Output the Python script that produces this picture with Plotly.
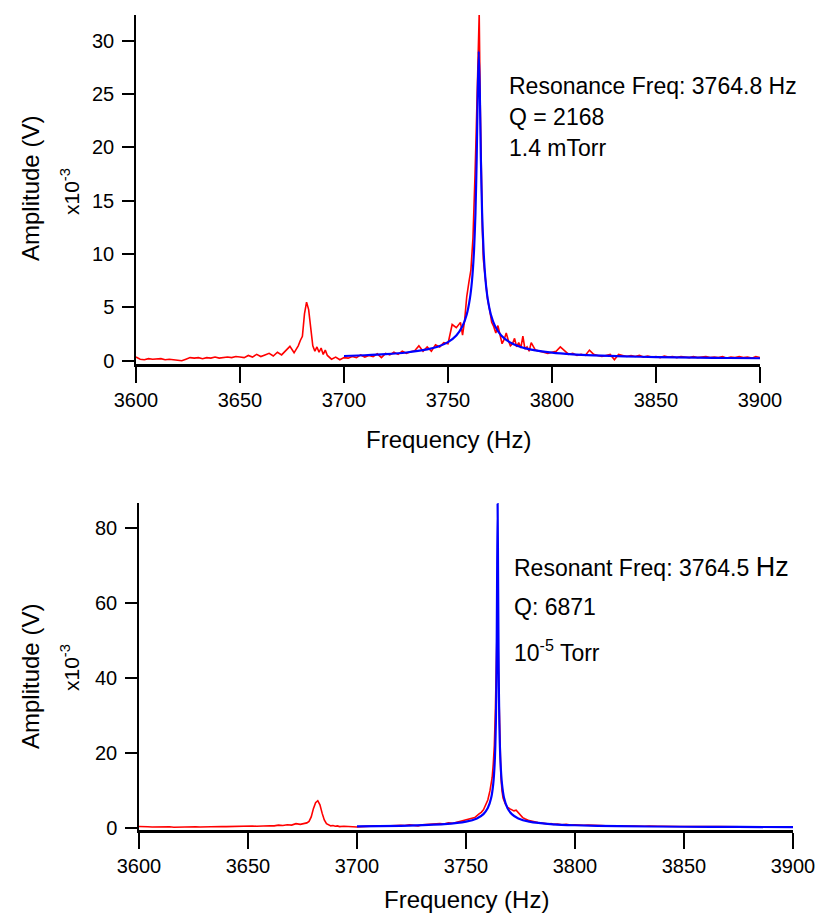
import numpy as np
import plotly.graph_objects as go

W, H = 816, 922
FONT = "Liberation Sans, Arial, sans-serif"


def grid(segments):
    """Build the frequency sample grid from (start, stop, step) segments."""
    return np.concatenate([np.arange(a, b + s / 2, s) for a, b, s in segments])


# ---------------- Upper panel: 1.4 mTorr ----------------
top_red_segments = [(3600, 3678, 2), (3679, 3692, 1), (3694, 3756, 2),
                    (3757, 3762, 1), (3762.5, 3767, 0.5), (3768, 3790, 1),
                    (3792, 3900, 2)]
top_red_amp = [
    # 3600-3678
    0.35, 0.15, 0.10, 0.20, 0.15, 0.15, 0.20, 0.10, 0.15, 0.10,
    0.05, 0.00, 0.15, 0.30, 0.25, 0.30, 0.20, 0.30, 0.25, 0.35,
    0.25, 0.30, 0.35, 0.30, 0.40, 0.35, 0.30, 0.50, 0.35, 0.60,
    0.40, 0.55, 0.70, 0.45, 0.80, 0.55, 1.00, 1.35, 0.75, 1.40,
    # 3679-3692
    1.9, 2.3, 4.4, 5.5, 4.8, 2.8, 1.4, 0.9, 1.3, 0.8, 1.2, 0.6, 1.0, 0.5,
    # 3694-3756
    0.15, 0.35, 0.10, 0.30, 0.25, 0.40, 0.30, 0.55, 0.35, 0.50,
    0.40, 0.65, 0.30, 0.70, 0.55, 0.80, 0.60, 0.90, 0.70, 0.85,
    0.95, 1.40, 0.90, 1.30, 0.90, 1.50, 1.30, 1.70, 1.60, 3.40,
    3.10, 3.60,
    # 3757-3762
    2.4, 3.8, 6.0, 7.3, 8.5, 11.5,
    # 3762.5-3767
    14.0, 17.5, 21.0, 26.0, 30.5, 32.5, 24.0, 17.0, 12.5, 9.5,
    # 3768-3790
    7.5, 5.8, 4.8, 3.6, 3.2, 2.6, 3.3, 2.3, 1.6, 2.0, 2.6, 1.9,
    1.4, 1.6, 2.1, 1.3, 1.7, 1.2, 2.3, 1.1, 1.3, 0.9, 1.7,
    # 3792-3900
    1.0, 0.9, 0.8, 0.7, 0.8, 0.9, 1.3, 0.9, 0.6, 0.7,
    0.5, 0.6, 0.5, 1.0, 0.6, 0.5, 0.4, 0.5, 0.6, 0.1,
    0.6, 0.5, 0.4, 0.5, 0.4, 0.5, 0.35, 0.45, 0.35, 0.4,
    0.3, 0.45, 0.35, 0.4, 0.3, 0.4, 0.35, 0.3, 0.4, 0.3,
    0.35, 0.4, 0.3, 0.35, 0.3, 0.4, 0.25, 0.35, 0.3, 0.4,
    0.3, 0.35, 0.25, 0.4, 0.3,
]

top_fit_freq = [3700, 3710, 3720, 3730, 3740, 3745, 3750, 3754, 3757, 3759,
                3760.5, 3761.5, 3762.5, 3763.2, 3763.8, 3764.3, 3764.8,
                3765.3, 3765.8, 3766.4, 3767.1, 3768.1, 3769.1, 3770.6,
                3772.6, 3775.6, 3779.6, 3785, 3790, 3800, 3810, 3820, 3835,
                3850, 3870, 3885, 3900]
top_fit_amp = [0.45, 0.52, 0.62, 0.78, 1.07, 1.32, 1.75, 2.37, 3.26, 4.34,
               5.8, 7.43, 10.3, 13.85, 19.05, 25.15, 29.0,
               25.15, 19.05, 13.85, 10.3, 7.43, 5.8, 4.34,
               3.26, 2.37, 1.75, 1.3, 1.05, 0.77, 0.61, 0.51, 0.41,
               0.35, 0.29, 0.26, 0.24]

# ---------------- Lower panel: 1e-5 Torr ----------------
bot_red_segments = [(3600, 3676, 2), (3677, 3692, 1), (3694, 3756, 2),
                    (3757, 3762, 1), (3762.5, 3767, 0.5), (3768, 3790, 1),
                    (3792, 3900, 2)]
bot_red_amp = [
    # 3600-3676
    0.45, 0.30, 0.35, 0.30, 0.35, 0.30, 0.30, 0.35, 0.25, 0.30,
    0.30, 0.25, 0.30, 0.35, 0.30, 0.35, 0.40, 0.35, 0.40, 0.45,
    0.40, 0.45, 0.40, 0.50, 0.45, 0.50, 0.55, 0.50, 0.60, 0.55,
    0.65, 0.60, 0.80, 0.70, 0.90, 0.80, 1.20, 1.00, 1.30,
    # 3677-3692
    1.4, 1.8, 3.0, 5.2, 6.8, 7.3, 6.2, 4.0, 2.2, 1.2, 0.8, 0.6, 0.7, 0.5,
    0.6, 0.4,
    # 3694-3756
    0.5, 0.4, 0.3, 0.3, 0.4, 0.5, 0.45, 0.6, 0.5, 0.6,
    0.65, 0.6, 0.7, 0.75, 0.7, 0.9, 0.8, 0.6, 0.9, 1.0,
    1.1, 1.0, 1.2, 1.1, 1.4, 1.3, 1.6, 1.8, 2.3, 2.6,
    2.8, 3.8,
    # 3757-3762
    4.2, 4.9, 6.0, 7.5, 10.0, 13.5,
    # 3762.5-3767
    17.0, 22.0, 32.0, 46.0, 60.0, 38.0, 22.0, 14.0, 10.0, 8.0,
    # 3768-3790
    6.5, 5.6, 5.2, 5.0, 4.6, 4.8, 4.2, 3.4, 2.8, 2.5, 2.2, 2.0,
    1.9, 1.7, 1.6, 1.5, 1.4, 1.3, 1.2, 1.3, 1.1, 1.2, 1.0,
    # 3792-3900
    1.1, 0.9, 1.0, 0.8, 0.9, 0.8, 0.75, 0.8, 0.7, 0.75,
    0.7, 0.65, 0.7, 0.6, 0.65, 0.6, 0.55, 0.6, 0.5, 0.55,
    0.5, 0.55, 0.45, 0.5, 0.5, 0.45, 0.5, 0.4, 0.45, 0.45,
    0.4, 0.45, 0.4, 0.4, 0.45, 0.35, 0.4, 0.4, 0.35, 0.4,
    0.35, 0.4, 0.35, 0.35, 0.4, 0.3, 0.35, 0.35, 0.3, 0.35,
    0.3, 0.35, 0.3, 0.35, 0.3,
]

bot_fit_freq = [3700, 3720, 3740, 3750, 3755, 3758, 3760, 3761.5, 3762.5,
                3763.2, 3763.7, 3764.0, 3764.25, 3764.5, 3764.75, 3765.0,
                3765.3, 3765.8, 3766.5, 3767.5, 3769, 3771, 3774, 3779,
                3790, 3800, 3820, 3850, 3875, 3900]
bot_fit_amp = [0.45, 0.62, 1.05, 1.72, 2.58, 3.73, 5.35, 7.96, 11.83,
               17.9, 28.1, 41.7, 64.0, 86.5, 64.0, 41.7,
               28.1, 17.9, 11.83, 7.96, 5.35, 3.73, 2.58, 1.72,
               1.02, 0.76, 0.52, 0.37, 0.31, 0.27]

freq_ticks = [3600, 3650, 3700, 3750, 3800, 3850, 3900]
top_amp_ticks = [0, 5, 10, 15, 20, 25, 30]
bot_amp_ticks = [0, 20, 40, 60, 80]

top_notes = ["Resonance Freq: 3764.8 Hz", "Q = 2168", "1.4 mTorr"]
bot_notes = ['Resonant Freq: 3764.5 <span style="font-size:27px">Hz</span>',
             "Q: 6871", "10<sup>-5</sup> Torr"]

top_red_freq = grid(top_red_segments)
bot_red_freq = grid(bot_red_segments)
assert len(top_red_freq) == len(top_red_amp)
assert len(bot_red_freq) == len(bot_red_amp)


def px(x):
    return x / W


def py(y):
    return 1 - y / H


RED = "#ff0000"
BLUE = "#0000ff"

fig = go.Figure()
fig.add_trace(go.Scatter(x=top_red_freq, y=top_red_amp, mode="lines",
                         line=dict(color=RED, width=1.6), xaxis="x", yaxis="y"))
fig.add_trace(go.Scatter(x=top_fit_freq, y=top_fit_amp, mode="lines",
                         line=dict(color=BLUE, width=2.2, shape="spline", smoothing=0.6),
                         xaxis="x", yaxis="y"))
fig.add_trace(go.Scatter(x=bot_red_freq, y=bot_red_amp, mode="lines",
                         line=dict(color=RED, width=1.6), xaxis="x2", yaxis="y2"))
fig.add_trace(go.Scatter(x=bot_fit_freq, y=bot_fit_amp, mode="lines",
                         line=dict(color=BLUE, width=2.2, shape="spline", smoothing=0.6),
                         xaxis="x2", yaxis="y2"))

common_x = dict(range=[3600, 3900], tickvals=freq_ticks, showline=True,
                linecolor="black", linewidth=2.5, ticks="outside", ticklen=16,
                tickwidth=1.5, tickcolor="black", showgrid=False, zeroline=False,
                automargin=False, ticklabelstandoff=0,
                tickfont=dict(family=FONT, size=20, color="black"))
common_y = dict(showline=True, linecolor="black", linewidth=1.5, ticks="outside",
                ticklen=12, tickwidth=1.5, tickcolor="black", showgrid=False,
                zeroline=False, automargin=False, ticklabelstandoff=4,
                tickfont=dict(family=FONT, size=20, color="black"))

fig.update_layout(
    width=W, height=H, margin=dict(l=0, r=0, t=0, b=0, autoexpand=False),
    paper_bgcolor="white", plot_bgcolor="white", showlegend=False,
    xaxis=dict(domain=[px(136), px(760)], anchor="y", **common_x),
    yaxis=dict(domain=[py(364), py(15)], anchor="x", range=[-0.3, 32.4],
               tickvals=top_amp_ticks, **common_y),
    xaxis2=dict(domain=[px(139), px(793)], anchor="y2", **common_x),
    yaxis2=dict(domain=[py(830), py(503)], anchor="x2", range=[-0.5, 86.7],
                tickvals=bot_amp_ticks, **common_y),
)

ann = []


def text(x, y, s, size, angle=0, xanchor="center"):
    ann.append(dict(x=px(x), y=py(y), xref="paper", yref="paper", text=s,
                    showarrow=False, textangle=angle, xanchor=xanchor,
                    yanchor="middle", font=dict(family=FONT, size=size, color="black")))


# axis titles
text(448, 439, "Frequency (Hz)", 24)
text(466, 899, "Frequency (Hz)", 24)
text(30, 189, "Amplitude (V)", 24, angle=-90)
text(30, 677, "Amplitude (V)", 24, angle=-90)
text(70, 192, "x10<sup>-3</sup>", 21, angle=-90)
text(70, 668, "x10<sup>-3</sup>", 21, angle=-90)

# fit results
for y, s in zip([86, 117, 148], top_notes):
    text(507, y, s, 23, xanchor="left")
for y, s in zip([567, 607, 651], bot_notes):
    text(512, y, s, 23, xanchor="left")

fig.update_layout(annotations=ann)
fig.write_html("out.html")
